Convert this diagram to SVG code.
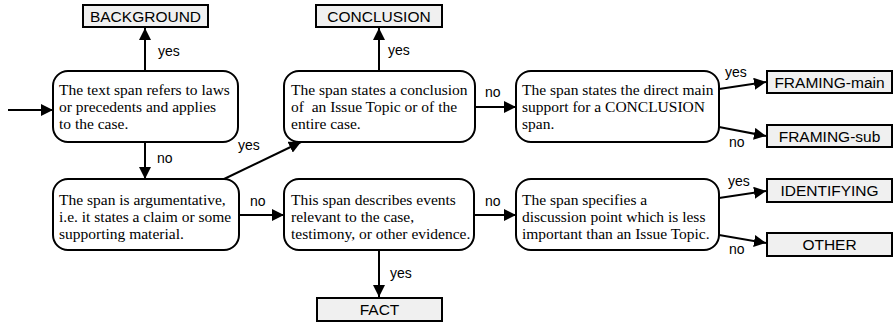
<svg xmlns="http://www.w3.org/2000/svg" width="894" height="324" viewBox="0 0 894 324">
<style>
.node rect.q{fill:#fff;stroke:#000;stroke-width:2}
.term rect{fill:#f0f0f0;stroke:#000;stroke-width:2}
.qt{font-family:"Liberation Serif",serif;font-size:15.5px;fill:#000}
.tt{font-family:"Liberation Sans",sans-serif;font-size:15.5px;fill:#000;text-anchor:middle}
.lb{font-family:"Liberation Sans",sans-serif;font-size:14px;fill:#000}
.edge{stroke:#000;stroke-width:2;fill:none;marker-end:url(#ah)}
</style>
<defs>
<marker id="ah" viewBox="0 0 10 10" refX="10" refY="5" markerWidth="6" markerHeight="6" markerUnits="strokeWidth" orient="auto">
<path d="M0,0 L10,5 L0,10 z" fill="#000"/>
</marker>
</defs>
<g id="connectors">
<line class="edge" x1="8" y1="110" x2="53" y2="110"/>
<line class="edge" x1="145" y1="71" x2="145" y2="28"/>
<line class="edge" x1="145" y1="142" x2="145" y2="179"/>
<line class="edge" x1="222" y1="180" x2="301" y2="142"/>
<line class="edge" x1="239" y1="215" x2="284" y2="215"/>
<line class="edge" x1="379" y1="71" x2="379" y2="28"/>
<line class="edge" x1="475" y1="107" x2="516" y2="107"/>
<line class="edge" x1="474" y1="215" x2="516" y2="215"/>
<line class="edge" x1="379" y1="250" x2="379" y2="297"/>
<line class="edge" x1="719" y1="89" x2="766" y2="82"/>
<line class="edge" x1="719" y1="127" x2="766" y2="136"/>
<line class="edge" x1="719" y1="198" x2="766" y2="191"/>
<line class="edge" x1="719" y1="235" x2="766" y2="243"/>
<text class="lb" x="158" y="56">yes</text>
<text class="lb" x="157" y="163">no</text>
<text class="lb" x="238" y="150">yes</text>
<text class="lb" x="250" y="206">no</text>
<text class="lb" x="388" y="55">yes</text>
<text class="lb" x="485" y="97">no</text>
<text class="lb" x="485" y="206">no</text>
<text class="lb" x="390" y="278">yes</text>
<text class="lb" x="725" y="77">yes</text>
<text class="lb" x="729" y="147">no</text>
<text class="lb" x="728" y="186">yes</text>
<text class="lb" x="729" y="254">no</text>
</g>
<g id="n1" class="node">
<rect class="q" x="53" y="71" width="185" height="71" rx="15"/>
<text class="qt" x="59" y="95">The text span refers to laws</text>
<text class="qt" x="59" y="112">or precedents and applies</text>
<text class="qt" x="59" y="129">to the case.</text>
</g>
<g id="n2" class="node">
<rect class="q" x="53" y="179" width="186" height="71" rx="15"/>
<text class="qt" x="59" y="205">The span is argumentative,</text>
<text class="qt" x="59" y="222">i.e. it states a claim or some</text>
<text class="qt" x="59" y="239">supporting material.</text>
</g>
<g id="n3" class="node">
<rect class="q" x="284" y="71" width="191" height="71" rx="15"/>
<text class="qt" x="291" y="95">The span states a conclusion</text>
<text class="qt" x="291" y="112" xml:space="preserve">of  an Issue Topic or of the</text>
<text class="qt" x="291" y="129">entire case.</text>
</g>
<g id="n4" class="node">
<rect class="q" x="284" y="179" width="190" height="71" rx="15"/>
<text class="qt" x="291" y="205">This span describes events</text>
<text class="qt" x="291" y="222">relevant to the case,</text>
<text class="qt" x="291" y="239">testimony, or other evidence.</text>
</g>
<g id="n5" class="node">
<rect class="q" x="516" y="71" width="203" height="71" rx="15"/>
<text class="qt" x="522" y="95">The span states the direct main</text>
<text class="qt" x="522" y="112">support for a CONCLUSION</text>
<text class="qt" x="522" y="129">span.</text>
</g>
<g id="n6" class="node">
<rect class="q" x="516" y="179" width="203" height="71" rx="15"/>
<text class="qt" x="522" y="205">The span specifies a</text>
<text class="qt" x="522" y="222">discussion point which is less</text>
<text class="qt" x="522" y="239">important than an Issue Topic.</text>
</g>
<g id="t-background" class="term">
<rect x="83" y="5" width="125" height="22"/>
<text class="tt" x="145.5" y="22">BACKGROUND</text>
</g>
<g id="t-conclusion" class="term">
<rect x="316" y="5" width="126" height="22"/>
<text class="tt" x="379" y="22">CONCLUSION</text>
</g>
<g id="t-fact" class="term">
<rect x="317" y="298" width="125" height="23"/>
<text class="tt" x="379.5" y="315">FACT</text>
</g>
<g id="t-framing-main" class="term">
<rect x="767" y="71" width="125" height="22"/>
<text class="tt" x="829.5" y="88">FRAMING-main</text>
</g>
<g id="t-framing-sub" class="term">
<rect x="767" y="125" width="125" height="22"/>
<text class="tt" x="829.5" y="142">FRAMING-sub</text>
</g>
<g id="t-identifying" class="term">
<rect x="767" y="179" width="125" height="23"/>
<text class="tt" x="829.5" y="196">IDENTIFYING</text>
</g>
<g id="t-other" class="term">
<rect x="767" y="233" width="125" height="23"/>
<text class="tt" x="829.5" y="250">OTHER</text>
</g>
</svg>
